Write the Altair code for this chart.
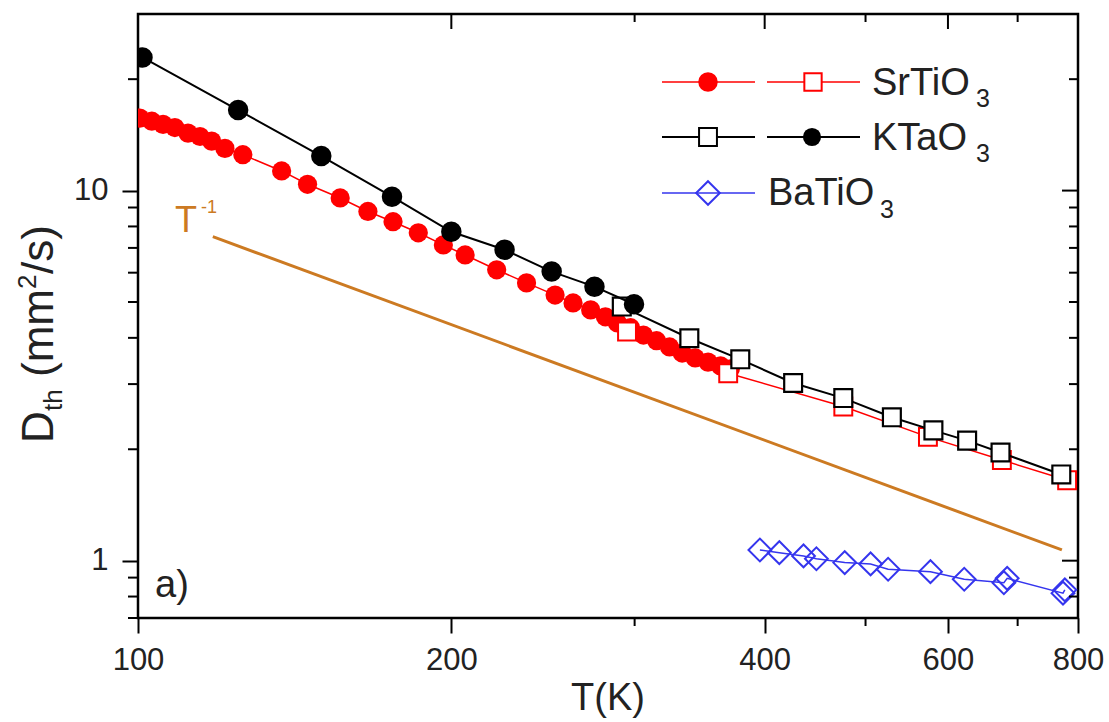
import altair as alt
import pandas as pd

# ---------------- data ----------------
sto_circ_T = [100.4, 103.1, 105.7, 108.5, 111.7, 114.7, 117.7, 121.2, 126.1, 137.4, 145.5,
              156.4, 166.3, 175.8, 185.9, 196.5, 206.2, 221.1, 236.2, 251.6, 261.8, 272.2,
              281.2, 288.8, 297.3, 305.9, 314.9, 324.1, 333.3, 343.0, 352.9, 362.8, 370.8]
sto_circ_D = [15.7, 15.4, 15.1, 14.8, 14.3, 14.0, 13.6, 13.0, 12.5, 11.3, 10.4,
              9.55, 8.78, 8.24, 7.69, 7.13, 6.70, 6.11, 5.63, 5.22, 4.97, 4.76,
              4.56, 4.39, 4.26, 4.07, 3.93, 3.78, 3.64, 3.53, 3.44, 3.36, 3.30]

sto_sq_T = [295, 369, 476, 574, 676, 781]
sto_sq_D = [4.16, 3.21, 2.61, 2.16, 1.87, 1.65]

kto_circ_T = [101, 124.8, 150, 175.4, 200, 225, 249.7, 274.5, 299.6]
kto_circ_D = [22.9, 16.5, 12.4, 9.63, 7.74, 6.92, 6.04, 5.50, 4.93]

kto_sq_T = [291.6, 338.6, 379, 426, 476, 530, 581, 626, 674, 771]
kto_sq_D = [4.86, 3.99, 3.50, 3.02, 2.75, 2.44, 2.25, 2.11, 1.96, 1.71]

bto_T = [395.8, 413.2, 435.9, 448.5, 477.5, 505.6, 525.6, 577.2, 622, 679, 684, 773.9, 777]
bto_D = [1.069, 1.051, 1.030, 1.012, 0.988, 0.98, 0.948, 0.934, 0.891, 0.872, 0.896, 0.817, 0.834]

guide_T = [118, 772]
guide_D = [7.51, 1.069]

x_major = [100, 200, 400, 600, 800]
x_minor = [300, 500, 700]
y_major = [1, 10]
y_minor = [0.7, 0.8, 0.9, 2, 3, 4, 5, 6, 7, 8, 9, 20]

# ---------------- styling ----------------
W, H = 940, 604
FONT = "Liberation Sans"
RED = "#ff0000"
BLUE = "#3535ee"
ORANGE = "#cc7a22"
TXT = "#222222"

xs = alt.Scale(type="log", domain=[100, 800], nice=False, zero=False)
ys = alt.Scale(type="log", domain=[0.7, 30], nice=False, zero=False)


def df(T, D):
    return pd.DataFrame({"T": T, "D": D})


def X(**kw):
    return alt.X("T:Q", scale=xs, **kw)


def Y(**kw):
    return alt.Y("D:Q", scale=ys, **kw)


axis_x = alt.Axis(values=x_major, format="d", tickSize=15, tickWidth=2, tickColor="black",
                  labelFontSize=31, labelFont=FONT, labelColor=TXT, labelPadding=12,
                  labelFlush=False, labelOverlap=False, domain=False, grid=False, title="")
axis_y = alt.Axis(values=y_major, format="d", tickSize=16, tickWidth=2, tickColor="black",
                  labelFontSize=31, labelFont=FONT, labelColor=TXT, labelPadding=14,
                  labelOverlap=False, domain=False, grid=False, title="")

layers = []

# T^-1 guide line
layers.append(alt.Chart(df(guide_T, guide_D)).mark_line(color=ORANGE, strokeWidth=3, clip=True)
              .encode(x=X(axis=axis_x), y=Y(axis=axis_y)))

# SrTiO3 filled circles
sc = df(sto_circ_T, sto_circ_D)
layers.append(alt.Chart(sc).mark_line(color=RED, strokeWidth=1.5, clip=True).encode(x=X(), y=Y()))
layers.append(alt.Chart(sc).mark_point(shape="circle", filled=True, color=RED, size=370,
                                       opacity=1, clip=True).encode(x=X(), y=Y()))

# SrTiO3 open squares
ss = df(sto_sq_T, sto_sq_D)
layers.append(alt.Chart(ss).mark_line(color=RED, strokeWidth=1.5, clip=True).encode(x=X(), y=Y()))
layers.append(alt.Chart(ss).mark_point(shape="square", filled=True, fill="white", stroke=RED,
                                       strokeWidth=2, size=320, opacity=1, clip=True)
              .encode(x=X(), y=Y()))

# KTaO3 open squares
ks = df(kto_sq_T, kto_sq_D)
layers.append(alt.Chart(ks).mark_line(color="black", strokeWidth=2, clip=True).encode(x=X(), y=Y()))
layers.append(alt.Chart(ks).mark_point(shape="square", filled=True, fill="white", stroke="black",
                                       strokeWidth=2.2, size=320, opacity=1, clip=True)
              .encode(x=X(), y=Y()))

# KTaO3 filled circles
kc = df(kto_circ_T, kto_circ_D)
layers.append(alt.Chart(kc).mark_line(color="black", strokeWidth=2, clip=True).encode(x=X(), y=Y()))
layers.append(alt.Chart(kc).mark_point(shape="circle", filled=True, color="black", size=420,
                                       opacity=1, clip=True).encode(x=X(), y=Y()))

# BaTiO3 open diamonds
bt = df(bto_T, bto_D)
layers.append(alt.Chart(bt).mark_line(color=BLUE, strokeWidth=1.5, clip=True).encode(x=X(), y=Y()))
layers.append(alt.Chart(bt).mark_point(shape="diamond", filled=False, color=BLUE, strokeWidth=2,
                                       size=520, opacity=1, clip=True).encode(x=X(), y=Y()))

# ---------------- extra ticks (minor, top, right) ----------------
tx_minor = pd.DataFrame({"T": x_minor})
tx_top_major = pd.DataFrame({"T": [200, 400, 600]})
tx_top_minor = pd.DataFrame({"T": [300, 500, 700]})
ty_minor = pd.DataFrame({"D": y_minor})
ty_right_major = pd.DataFrame({"D": [1, 10]})
ty_right_minor = pd.DataFrame({"D": [0.8, 0.9, 2, 3, 4, 5, 6, 7, 8, 9, 20]})

rule = dict(color="black", strokeWidth=2)
layers.append(alt.Chart(tx_minor).mark_rule(**rule).encode(x=X(), y=alt.value(H), y2=alt.value(H + 8)))
layers.append(alt.Chart(tx_top_major).mark_rule(**rule).encode(x=X(), y=alt.value(0), y2=alt.value(15)))
layers.append(alt.Chart(tx_top_minor).mark_rule(**rule).encode(x=X(), y=alt.value(0), y2=alt.value(8)))
layers.append(alt.Chart(ty_minor).mark_rule(**rule).encode(y=Y(), x=alt.value(0), x2=alt.value(-10)))
layers.append(alt.Chart(ty_right_major).mark_rule(**rule).encode(y=Y(), x=alt.value(W), x2=alt.value(W - 16)))
layers.append(alt.Chart(ty_right_minor).mark_rule(**rule).encode(y=Y(), x=alt.value(W), x2=alt.value(W - 9)))

# ---------------- legend (drawn by hand) ----------------
one = pd.DataFrame({"k": [0]})


def seg(x1, x2, y, color, w):
    return alt.Chart(one).mark_rule(color=color, strokeWidth=w).encode(
        x=alt.value(x1), x2=alt.value(x2), y=alt.value(y))


def sym(x, y, shape, size, filled, color, fill=None, sw=2):
    kw = dict(shape=shape, size=size, opacity=1, strokeWidth=sw)
    if filled:
        kw.update(filled=True, color=color)
    elif fill:
        kw.update(filled=True, fill=fill, stroke=color)
    else:
        kw.update(filled=False, color=color)
    return alt.Chart(one).mark_point(**kw).encode(x=alt.value(x), y=alt.value(y))


def txt(x, y, s, size, color=TXT, align="left", angle=None, baseline="alphabetic"):
    kw = dict(text=s, fontSize=size, font=FONT, color=color, align=align, baseline=baseline)
    if angle is not None:
        kw["angle"] = angle
    return alt.Chart(one).mark_text(**kw).encode(x=alt.value(x), y=alt.value(y))


r1, r2, r3 = 68, 123, 179
LF = 38
layers += [
    seg(524, 617, r1, RED, 1.5), seg(629, 722, r1, RED, 1.5),
    sym(570, r1, "circle", 380, True, RED),
    sym(675, r1, "square", 300, False, RED, fill="white"),
    txt(734, 81, "SrTiO", LF), txt(838, 93, "3", 25),

    seg(524, 617, r2, "black", 2), seg(629, 722, r2, "black", 2),
    sym(570, r2, "square", 320, False, "black", fill="white"),
    sym(674, r2, "circle", 330, True, "black"),
    txt(734, 136, "KTaO", LF), txt(838, 148, "3", 25),

    seg(524, 617, r3, BLUE, 1.5),
    sym(570, r3, "diamond", 560, False, BLUE),
    txt(630, 191, "BaTiO", LF), txt(742, 204, "3", 25),
]

# annotations
layers += [
    txt(37, 218, "T", 36, color=ORANGE), txt(63, 199, "-1", 18, color=ORANGE),
    txt(17, 583, "a)", 38),
    txt(470, 696, "T(K)", 38, align="center"),
]

# y-axis title, composed so that sub/superscripts are real text
yt_x = -85
layers += [
    txt(yt_x, 429, "D", 44, angle=270),
    txt(yt_x + 9, 397, "th", 26, angle=270),
    txt(yt_x, 363, "(mm", 44, angle=270),
    txt(yt_x - 17, 275, "2", 26, angle=270),
    txt(yt_x, 260, "/s)", 44, angle=270),
]

chart = alt.layer(*layers).properties(
    width=W, height=H,
    padding={"left": 138, "top": 14, "right": 31, "bottom": 104},
    autosize=alt.AutoSizeParams(type="none"),
    background="white",
).configure_view(stroke="black", strokeWidth=2.5)

chart.save("out.html", embed_options={"renderer": "svg", "actions": False})
